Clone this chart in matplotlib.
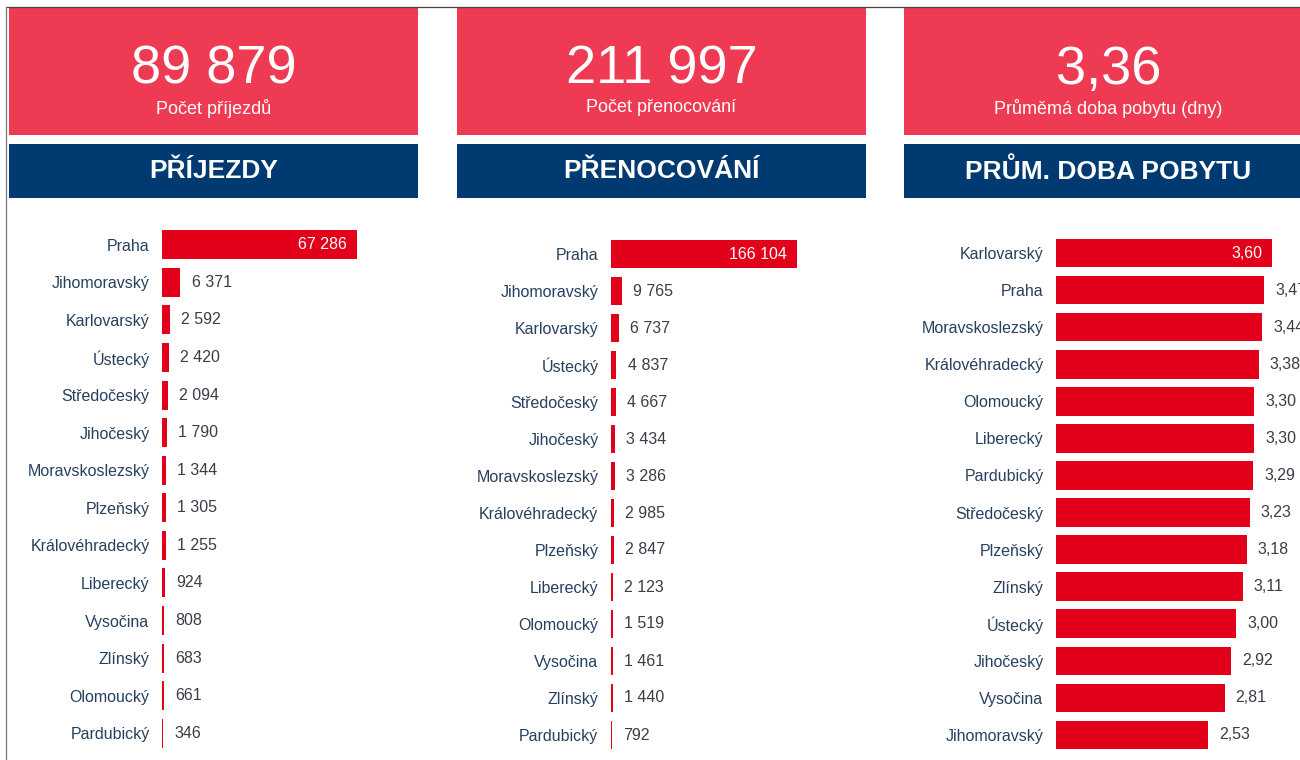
import matplotlib.pyplot as plt
from matplotlib.patches import Rectangle
from matplotlib.lines import Line2D

plt.rcParams['font.family'] = ['Liberation Sans', 'DejaVu Sans']

# ---------------- data ----------------
kpi_values = ['89 879', '211 997', '3,36']
kpi_labels = ['Počet příjezdů', 'Počet přenocování', 'Průměmá doba pobytu (dny)']
headers = ['PŘÍJEZDY', 'PŘENOCOVÁNÍ', 'PRŮM. DOBA POBYTU']

arr_regions = ['Praha', 'Jihomoravský', 'Karlovarský', 'Ústecký', 'Středočeský', 'Jihočeský',
               'Moravskoslezský', 'Plzeňský', 'Královéhradecký', 'Liberecký', 'Vysočina',
               'Zlínský', 'Olomoucký', 'Pardubický']
arr_values = [67286, 6371, 2592, 2420, 2094, 1790, 1344, 1305, 1255, 924, 808, 683, 661, 346]

night_regions = ['Praha', 'Jihomoravský', 'Karlovarský', 'Ústecký', 'Středočeský', 'Jihočeský',
                 'Moravskoslezský', 'Královéhradecký', 'Plzeňský', 'Liberecký', 'Olomoucký',
                 'Vysočina', 'Zlínský', 'Pardubický']
night_values = [166104, 9765, 6737, 4837, 4667, 3434, 3286, 2985, 2847, 2123, 1519, 1461, 1440, 792]

stay_regions = ['Karlovarský', 'Praha', 'Moravskoslezský', 'Královéhradecký', 'Olomoucký',
                'Liberecký', 'Pardubický', 'Středočeský', 'Plzeňský', 'Zlínský', 'Ústecký',
                'Jihočeský', 'Vysočina', 'Jihomoravský']
stay_values = [3.60, 3.47, 3.44, 3.38, 3.30, 3.30, 3.29, 3.23, 3.18, 3.11, 3.00, 2.92, 2.81, 2.53]

# ---------------- styling ----------------
W, H = 1300, 760
BOX_RED = '#ee3b53'
NAVY = '#003a70'
BAR_RED = '#e2001a'
LABEL_COL = '#27405f'
VALUE_COL = '#3c3c48'


def fmt_int(v):
    return f'{v:,}'.replace(',', ' ')


def fmt_dec(v):
    return f'{v:.2f}'.replace('.', ',')


fig = plt.figure(figsize=(W / 100, H / 100), dpi=100)


def px_axes(x0, y0, x1, y1):
    return fig.add_axes([x0 / W, 1 - y1 / H, (x1 - x0) / W, (y1 - y0) / H])


# frame lines (top and left)
fig.add_artist(Line2D([6 / W, 1], [1 - 7 / H, 1 - 7 / H], color='#444444', lw=0.9))
fig.add_artist(Line2D([6 / W, 6 / W], [0, 1 - 7 / H], color='#777777', lw=0.9))

# KPI boxes and headers
box_lefts = [9, 457, 904]
box_w = 409
for i, x0 in enumerate(box_lefts):
    fig.add_artist(Rectangle((x0 / W, 1 - 135 / H), box_w / W, 127 / H,
                             transform=fig.transFigure, color=BOX_RED, lw=0))
    fig.add_artist(Rectangle((x0 / W, 1 - 198 / H), box_w / W, 54 / H,
                             transform=fig.transFigure, color=NAVY, lw=0))
    cx = (x0 + box_w / 2) / W
    fig.text(cx, 1 - 84 / H, kpi_values[i], color='white', fontsize=39,
             ha='center', va='baseline')
    fig.text(cx, 1 - 108 / H, kpi_labels[i], color='white', fontsize=13,
             ha='center', va='center')
    fig.text(cx, 1 - 171 / H, headers[i], color='white', fontsize=19,
             fontweight='bold', ha='center', va='center')


def bar_panel(ax, regions, values, fmt, xmax):
    ypos = list(range(len(regions)))
    ax.barh(ypos, values, height=0.77, color=BAR_RED)
    ax.set_ylim(len(regions) - 0.5, -0.5)
    ax.set_xlim(0, xmax)
    ax.set_yticks(ypos)
    ax.set_yticklabels(regions, fontsize=11.5, color=LABEL_COL)
    ax.tick_params(axis='y', length=0, pad=9)
    ax.set_xticks([])
    for s in ax.spines.values():
        s.set_visible(False)
    vmax = max(values)
    for y, v in zip(ypos, values):
        if v == vmax:
            ax.annotate(fmt(v), (v, y), xytext=(-7, 0), textcoords='offset points',
                        ha='right', va='center', color='white', fontsize=11.5)
        else:
            ax.annotate(fmt(v), (v, y), xytext=(8, 0), textcoords='offset points',
                        ha='left', va='center', color=VALUE_COL, fontsize=11.5,
                        annotation_clip=False)


ax1 = px_axes(162, 226, 420, 752)
bar_panel(ax1, arr_regions, arr_values, fmt_int, max(arr_values) * 258 / 195)

ax2 = px_axes(611, 235.5, 866, 753.5)
bar_panel(ax2, night_regions, night_values, fmt_int, max(night_values) * 255 / 186)

ax3 = px_axes(1056, 234.5, 1300, 753.5)
bar_panel(ax3, stay_regions, stay_values, fmt_dec, max(stay_values) * 244 / 216)

fig.savefig('out.png', dpi=100, facecolor='white')
